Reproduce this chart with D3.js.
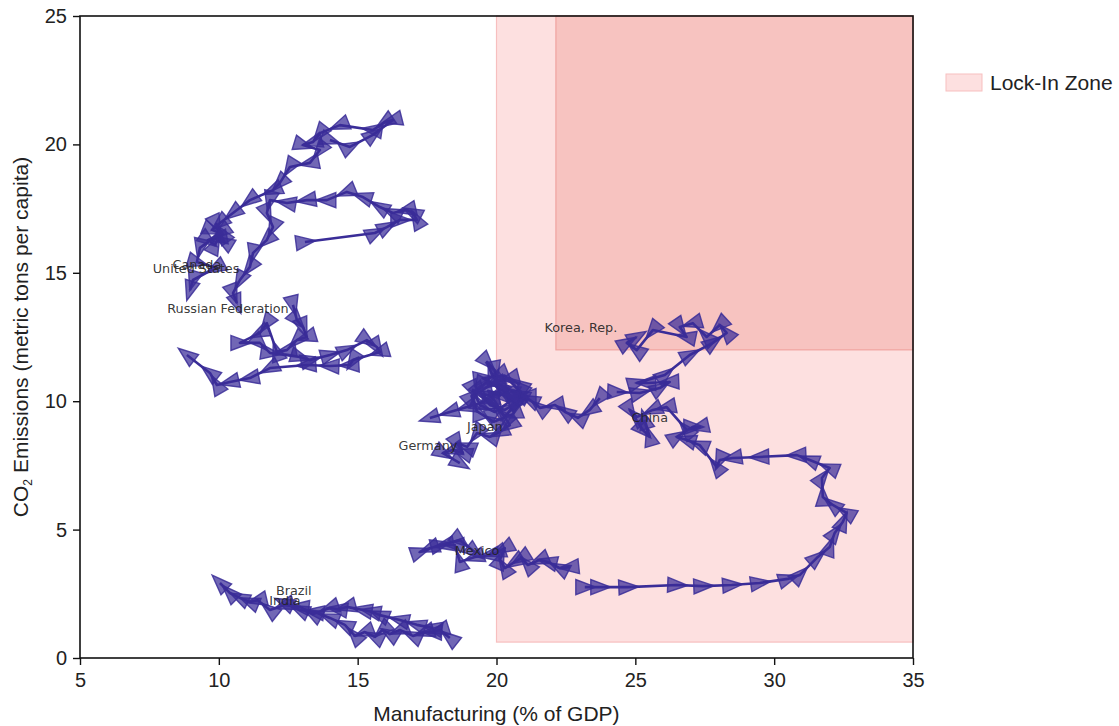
<!DOCTYPE html>
<html>
<head>
<meta charset="utf-8">
<script src="https://cdn.jsdelivr.net/npm/d3@7"></script>
<style>
  body { margin: 0; background: #fff; }
  text { font-family: "Liberation Sans", Arial, sans-serif; }
</style>
</head>
<body>
<svg id="chart" width="1119" height="726"></svg>
<script>
// trajectories, [manufacturing % of GDP, CO2 t per capita]
var unitedStates = [[14.00,20.17],[14.72,19.90],[15.55,20.37],[16.27,20.95],[15.98,20.87],[15.55,20.56],
  [14.36,20.75],[13.64,20.44],[13.39,20.09],[13.03,19.98],[13.64,19.78],[13.28,19.28],[12.56,19.12],
  [12.20,18.50],[11.95,18.22],[11.12,17.83],[10.51,17.33],[10.04,16.94],[9.75,16.67],[10.15,16.50],
  [9.90,16.90],[10.20,16.20],[9.97,16.35],[9.61,16.28],[9.86,16.08],[10.10,16.60],[9.32,15.97],
  [9.21,15.42],[9.90,15.20],[9.07,14.72],[8.96,14.33]];
var canada = [[13.10,16.20],[15.62,16.55],[16.05,16.78],[16.52,17.06],[17.13,17.06],[16.99,17.33],
  [16.77,17.45],[16.27,17.33],[15.80,17.56],[15.19,17.95],[14.61,18.15],[13.89,17.83],[13.17,17.83],
  [12.45,17.72],[11.84,17.83],[11.73,17.33],[11.95,16.78],[11.73,16.28],[11.23,15.77],[11.12,15.23],
  [10.76,14.72],[10.51,14.21],[10.65,13.82]];
var russia = [[12.67,13.75],[12.81,13.16],[13.03,12.89],[13.17,12.50],[12.81,12.38],[12.45,11.99],
  [12.09,11.92],[11.73,13.04],[11.48,12.66],[10.76,12.27],[11.48,12.27],[11.84,11.88],[12.92,11.72],
  [13.28,11.60],[14.00,11.80],[14.61,11.99],[15.33,12.38],[15.69,12.11],[15.80,11.92],[14.83,11.60],
  [14.72,11.41],[14.00,11.37],[13.17,11.41],[11.84,11.29],[11.12,10.90],[10.40,10.75],[9.93,10.63],
  [9.68,11.10],[8.85,11.80]];
var korea = [[24.33,10.36],[25.16,10.32],[25.88,10.51],[26.24,10.75],[25.41,10.71],[25.05,10.71],
  [26.06,11.02],[26.96,11.80],[27.79,12.27],[28.29,12.66],[28.04,12.97],[27.57,12.50],[27.07,13.04],
  [26.60,12.89],[26.85,12.50],[25.63,12.77],[25.05,11.99],[24.69,12.27],[25.05,12.50]];
var china = [[23.18,2.76],[23.72,2.76],[24.73,2.76],[26.49,2.84],[27.43,2.80],[28.47,2.84],[29.48,2.92],
  [30.49,3.08],[30.92,3.23],[31.53,3.89],[32.00,4.32],[32.18,4.87],[32.47,5.30],[32.61,5.65],[32.11,5.96],
  [31.75,6.27],[31.72,7.01],[32.00,7.40],[31.28,7.71],[30.82,7.90],[29.48,7.83],[28.51,7.79],[28.04,7.71],
  [27.93,7.44],[27.32,8.29],[26.85,8.49],[26.49,8.61],[27.07,9.00],[27.32,9.00],[26.85,8.88],[26.13,9.77],
  [25.63,9.66],[25.05,9.38],[24.80,9.66],[25.27,8.88],[25.52,8.61],[25.34,9.27]];
var japan = [[23.72,10.12],[23.36,9.66],[22.93,9.35],[22.47,9.58],[22.11,9.85],[21.57,9.74],[21.21,10.05],
  [20.84,10.24],[20.48,10.44],[20.12,10.63],[19.84,11.02],[19.66,11.53],[19.94,11.21],[20.12,10.24],
  [19.58,10.24],[19.15,10.44],[19.40,9.85],[19.94,9.58],[20.56,10.05],[20.30,10.36],[19.50,10.90],
  [20.30,11.00],[20.90,10.30],[20.60,9.50],[19.90,9.20],[19.30,9.60],[19.10,10.20],[19.60,10.70],
  [20.20,10.60],[20.70,9.90],[20.30,9.40],[19.76,10.05],[18.94,9.77],[18.32,9.58],[17.60,9.35]];
var germany = [[20.84,10.63],[20.48,10.90],[19.94,10.75],[19.40,10.36],[19.76,9.85],[20.30,9.66],
  [20.77,9.97],[21.10,10.20],[20.50,10.20],[19.70,10.40],[20.00,9.90],[20.48,9.07],[20.12,8.80],
  [19.76,8.61],[19.30,8.76],[18.94,8.22],[18.58,8.37],[18.79,7.98],[18.43,8.10],[18.07,7.98],[18.68,7.59]];
var mexico = [[22.64,3.54],[22.28,3.50],[21.85,3.74],[21.56,3.82],[21.13,3.62],[20.90,3.90],[20.66,3.74],
  [20.30,3.50],[20.12,3.82],[20.30,4.28],[20.00,4.10],[19.76,4.01],[19.22,3.93],[18.68,3.74],[18.50,4.40],
  [18.14,4.40],[17.60,4.28],[17.24,4.13],[17.96,4.40],[18.68,4.59],[19.22,4.13]];
var brazil = [[17.71,1.17],[17.13,1.29],[16.52,1.48],[15.80,1.67],[15.50,1.80],[15.19,1.87],[14.61,1.99],
  [14.30,1.90],[14.00,1.95],[13.39,1.71],[12.92,1.99],[12.38,2.06],[11.84,1.87],[11.40,2.25],[11.12,2.18],
  [10.76,2.34],[10.40,2.53],[10.04,2.92]];
var india = [[18.32,0.78],[17.96,1.09],[17.70,1.00],[17.42,1.01],[16.99,0.86],[16.52,1.09],[16.16,0.93],
  [15.90,1.10],[15.62,0.82],[15.26,1.01],[14.90,0.86],[14.54,1.29],[14.00,1.56],[13.46,1.79],[12.92,1.87],
  [12.38,2.14]];

var countryNames = ["United States", "Canada", "Russian Federation", "Korea, Rep.", "China",
  "Japan", "Germany", "Mexico", "Brazil", "India"];
var countryPaths = [unitedStates, canada, russia, korea, china, japan, germany, mexico, brazil, india];
// label anchor points (data units)
var labelX = [9.18, 9.21, 10.33, 23.04, 25.52, 19.58, 17.53, 19.30, 12.70, 12.38];
var labelY = [15.15, 15.34, 13.59, 12.85, 9.38, 9.03, 8.29, 4.17, 2.61, 2.22];

// lock-in zone
var zoneOuter = {x0: 20, x1: 35, y0: 0.62, y1: 25};
var zoneInner = {x0: 22.14, x1: 35, y0: 12, y1: 25};

var xTicks = [5, 10, 15, 20, 25, 30, 35];
var yTicks = [0, 5, 10, 15, 20, 25];

var svg = d3.select("#chart");
var margin = {top: 16, right: 206, bottom: 68, left: 80};
var W = +svg.attr("width"), H = +svg.attr("height");
var w = W - margin.left - margin.right, h = H - margin.top - margin.bottom;

var x = d3.scaleLinear().domain([5, 35]).range([0, w]);
var y = d3.scaleLinear().domain([0, 25]).range([h, 0]);

var g = svg.append("g").attr("transform", "translate(" + margin.left + "," + margin.top + ")");

function zoneRect(z, fill, stroke) {
    g.append("rect")
        .attr("x", x(z.x0)).attr("y", y(z.y1))
        .attr("width", x(z.x1) - x(z.x0)).attr("height", y(z.y0) - y(z.y1))
        .style("fill", fill).style("stroke", stroke).style("stroke-width", 1.2);
}
zoneRect(zoneOuter, "#fde0e0", "#f7bfbf");
zoneRect(zoneInner, "#f7c3c0", "#efa3a0");

var ink = "#3a2d98";
var line = d3.line().x(function (d) { return x(d[0]); }).y(function (d) { return y(d[1]); });
var tri = "M11,0L-9,-7.5L-9,7.5Z";

countryPaths.forEach(function (pts) {
    var grp = g.append("g");
    grp.append("path")
        .datum(pts)
        .attr("d", line)
        .style("fill", "none")
        .style("stroke", ink)
        .style("stroke-width", 2.6)
        .style("stroke-linejoin", "round");
    grp.selectAll("path.m")
        .data(pts)
        .enter().append("path")
        .attr("class", "m")
        .attr("d", tri)
        .attr("transform", function (d, i) {
            var a = i < pts.length - 1 ? pts[i] : pts[i - 1];
            var b = i < pts.length - 1 ? pts[i + 1] : pts[i];
            var ang = Math.atan2(y(b[1]) - y(a[1]), x(b[0]) - x(a[0])) * 180 / Math.PI;
            return "translate(" + x(d[0]) + "," + y(d[1]) + ") rotate(" + ang + ")";
        })
        .style("fill", ink)
        .style("fill-opacity", 0.72)
        .style("stroke", ink)
        .style("stroke-opacity", 0.85)
        .style("stroke-width", 1.4);
});

g.append("g").selectAll("text")
    .data(countryNames)
    .enter().append("text")
    .attr("x", function (d, i) { return x(labelX[i]); })
    .attr("y", function (d, i) { return y(labelY[i]); })
    .attr("dy", "0.35em")
    .attr("text-anchor", "middle")
    .style("font-family", "'DejaVu Sans', sans-serif")
    .style("font-size", "12.8px")
    .style("fill", "#222")
    .style("fill-opacity", 0.9)
    .text(function (d) { return d; });

// frame
g.append("rect")
    .attr("width", w).attr("height", h)
    .style("fill", "none").style("stroke", "#111").style("stroke-width", 1.6);

var xAxis = g.append("g").attr("transform", "translate(0," + h + ")")
    .call(d3.axisBottom(x).tickValues(xTicks).tickSize(7).tickPadding(8));
var yAxis = g.append("g")
    .call(d3.axisLeft(y).tickValues(yTicks).tickSize(7).tickPadding(6));
[xAxis, yAxis].forEach(function (ax) {
    ax.select(".domain").remove();
    ax.selectAll("line").style("stroke", "#111").style("stroke-width", 1.4);
    ax.selectAll("text").style("font-size", "20px").style("fill", "#222")
        .style("font-family", "'Liberation Sans', Arial, sans-serif");
});

svg.append("text")
    .attr("x", margin.left + w / 2).attr("y", H - 5)
    .attr("text-anchor", "middle")
    .style("font-size", "21px").style("fill", "#222")
    .text("Manufacturing (% of GDP)");

var yl = svg.append("text")
    .attr("transform", "translate(28," + (margin.top + h / 2) + ") rotate(-90)")
    .attr("text-anchor", "middle")
    .style("font-size", "21px").style("fill", "#222");
yl.append("tspan").text("CO");
yl.append("tspan").attr("dy", 4).style("font-size", "12px").text("2");
yl.append("tspan").attr("dy", -4).text(" Emissions (metric tons per capita)");

// legend
var lg = svg.append("g").attr("transform", "translate(946,74)");
lg.append("rect").attr("width", 36).attr("height", 17)
    .style("fill", "#fde0e0").style("stroke", "#f7bfbf");
lg.append("text").attr("x", 44).attr("y", 9).attr("dy", "0.35em")
    .style("font-size", "21px").style("fill", "#222")
    .text("Lock-In Zone");
</script>
</body>
</html>
